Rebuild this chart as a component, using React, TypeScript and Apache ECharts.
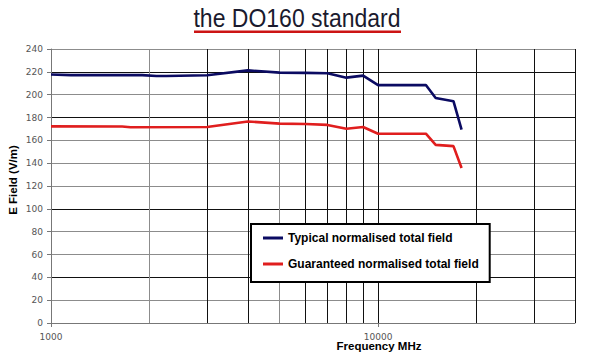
import React, { useEffect, useRef } from "react";
import * as echarts from "echarts";

const titleText = "the DO160 standard";
const xAxisTitle = "Frequency MHz";
const yAxisTitle = "E Field (V/m)";

const typicalName = "Typical normalised total field";
const guaranteedName = "Guaranteed normalised total field";

const typicalFreq = [1000, 1150, 1900, 2100, 2250, 3000, 4000, 5000, 6000, 7000, 8000, 9000, 10000, 14000, 15000, 17000, 18000];
const typicalField = [217.6, 217.1, 217.1, 216.3, 216.3, 217.0, 221.3, 219.3, 219.1, 218.7, 214.9, 216.7, 208.4, 208.4, 197.0, 194.3, 169.3];

const guaranteedFreq = [1000, 1650, 1750, 3000, 4000, 5000, 6000, 7000, 8000, 9000, 10000, 14000, 15000, 17000, 18000];
const guaranteedField = [172.2, 172.1, 171.5, 171.7, 176.5, 174.6, 174.3, 173.5, 170.1, 171.7, 165.8, 165.8, 156.0, 154.9, 135.7];

const xTickLabels = [1000, 10000];
const xMinorGrid = [2000, 3000, 4000, 5000, 6000, 7000, 8000, 9000, 20000, 30000, 40000];
const xMinorGridDark = [false, true, true, false, true, true, true, true, true, true, true];

const yMin = 0;
const yMax = 240;
const yStep = 20;

export default function App() {
  const ref = useRef<HTMLDivElement>(null);

  useEffect(() => {
    if (!ref.current) return;
    const chart = echarts.init(ref.current, undefined, { renderer: "svg" });

    const dark = "#111111";
    const light = "#8c8c8c";
    // colours of the horizontal grid lines from 0 to 240
    const hColors = [light, light, dark, light, light, dark, light, light, light, dark, light, dark, light];

    const option: any = {
      animation: false,
      backgroundColor: "#ffffff",
      grid: { left: 51, right: 14, top: 49, bottom: 36, containLabel: false },
      xAxis: {
        type: "log",
        logBase: 10,
        min: 1000,
        max: 40000,
        axisLine: { show: true, lineStyle: { color: "#777777", width: 1 } },
        axisTick: { show: true, length: 4, lineStyle: { color: "#777777" } },
        axisLabel: {
          margin: 9,
          fontFamily: "DejaVu Sans",
          fontSize: 9,
          color: "#555555",
          showMaxLabel: false,
          formatter: (v: number) => (xTickLabels.some((t) => Math.abs(t - v) < 1e-6) ? String(v) : ""),
        },
        splitLine: { show: true, lineStyle: { color: [light, light, dark], width: 1 } },
      },
      yAxis: {
        type: "value",
        min: yMin,
        max: yMax,
        interval: yStep,
        axisLine: { show: true, lineStyle: { color: "#777777", width: 1 } },
        axisTick: { show: true, length: 4, lineStyle: { color: "#777777" } },
        axisLabel: {
          margin: 8,
          fontFamily: "DejaVu Sans",
          fontSize: 9,
          color: "#555555",
        },
        splitLine: { show: true, lineStyle: { color: hColors, width: 1 } },
      },
      legend: {
        show: true,
        orient: "vertical",
        left: 251,
        top: 224,
        padding: [7, 11, 11, 12],
        itemGap: 12,
        itemWidth: 20,
        itemHeight: 3,
        icon: "rect",
        backgroundColor: "#ffffff",
        borderColor: "#000000",
        borderWidth: 2,
        textStyle: {
          fontFamily: "Liberation Sans",
          fontWeight: "bold",
          fontSize: 12,
          color: "#000000",
          lineHeight: 14,
        },
        data: [typicalName, guaranteedName],
      },
      graphic: [
        {
          type: "text",
          x: 297,
          y: 18,
          scaleX: 0.92,
          style: {
            text: titleText,
            fontFamily: "Liberation Sans",
            fontSize: 25,
            fill: "#1a1a2e",
            align: "center",
            verticalAlign: "middle",
          },
        },
        {
          type: "rect",
          shape: { x: 194, y: 30.5, width: 207, height: 2.5 },
          style: { fill: "#cc1414" },
        },
        {
          type: "text",
          x: 379,
          y: 346,
          style: {
            text: xAxisTitle,
            fontFamily: "Liberation Sans",
            fontWeight: "bold",
            fontSize: 11.5,
            fill: "#000000",
            align: "center",
            verticalAlign: "middle",
          },
        },
        {
          type: "text",
          x: 13,
          y: 180,
          rotation: Math.PI / 2,
          style: {
            text: yAxisTitle,
            fontFamily: "Liberation Sans",
            fontWeight: "bold",
            fontSize: 11.5,
            fill: "#000000",
            align: "center",
            verticalAlign: "middle",
          },
        },
      ],
      series: [
        {
          name: typicalName,
          type: "line",
          z: 3,
          symbol: "none",
          showSymbol: false,
          color: "#0b0b62",
          lineStyle: { color: "#0b0b62", width: 2.6 },
          data: typicalFreq.map((f, i) => [f, typicalField[i]]),
          markLine: {
            silent: true,
            z: 1,
            symbol: "none",
            label: { show: false },
            emphasis: { disabled: true },
            data: xMinorGrid.map((f, i) => ({
              xAxis: f,
              lineStyle: { color: xMinorGridDark[i] ? dark : light, width: 1, type: "solid" },
            })),
          },
        },
        {
          name: guaranteedName,
          type: "line",
          z: 3,
          symbol: "none",
          showSymbol: false,
          color: "#e01e1e",
          lineStyle: { color: "#e01e1e", width: 2.6 },
          data: guaranteedFreq.map((f, i) => [f, guaranteedField[i]]),
        },
      ],
    };

    chart.setOption(option);
    return () => chart.dispose();
  }, []);

  return (
    <div
      ref={ref}
      style={{ position: "fixed", left: 0, top: 0, width: 589, height: 359, background: "#fff" }}
    />
  );
}
